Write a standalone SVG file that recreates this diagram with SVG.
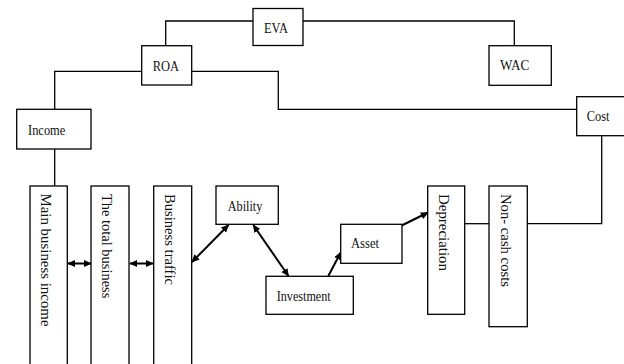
<svg xmlns="http://www.w3.org/2000/svg" width="624" height="364" viewBox="0 0 624 364">
<style>
.box{fill:#fff;stroke:#000;stroke-width:1.3}
.ln{fill:none;stroke:#000;stroke-width:1.3}
.ar{fill:none;stroke:#000;stroke-width:2}
.t{font-family:"Liberation Serif","Times New Roman",serif;font-size:14px;fill:#111}
.v{font-family:"Liberation Serif","Times New Roman",serif;font-size:15px;fill:#111}
</style>
<defs>
<marker id="ah" viewBox="0 0 10 10" refX="9" refY="5" markerWidth="8" markerHeight="8" markerUnits="userSpaceOnUse" orient="auto-start-reverse">
<path d="M0,0.5 L10,5 L0,9.5 z" fill="#000"/>
</marker>
</defs>
<rect width="624" height="364" fill="#fff"/>
<g id="connectors">
<polyline class="ln" points="253,21 165.7,21 165.7,45.7"/>
<polyline class="ln" points="303,21 514.3,21 514.3,45.7"/>
<polyline class="ln" points="141.7,71.3 54.7,71.3 54.7,109.3"/>
<polyline class="ln" points="191.7,71.3 278.3,71.3 278.3,109.3 576.7,109.3"/>
<line class="ln" x1="54.7" y1="149" x2="54.7" y2="186"/>
<polyline class="ln" points="601.7,135.7 601.7,223.7 527.3,223.7"/>
<line class="ln" x1="464.7" y1="223.7" x2="489" y2="223.7"/>
<line class="ar" x1="68" y1="263.5" x2="91" y2="263.5" marker-start="url(#ah)" marker-end="url(#ah)"/>
<line class="ar" x1="130" y1="263.5" x2="153" y2="263.5" marker-start="url(#ah)" marker-end="url(#ah)"/>
<line class="ar" x1="192" y1="262" x2="228.5" y2="225" marker-start="url(#ah)" marker-end="url(#ah)"/>
<line class="ar" x1="253.3" y1="225" x2="288.5" y2="276" marker-start="url(#ah)" marker-end="url(#ah)"/>
<line class="ar" x1="328.3" y1="276" x2="340.7" y2="252.5" marker-end="url(#ah)"/>
<line class="ar" x1="401.7" y1="225.5" x2="428" y2="212.5" marker-end="url(#ah)"/>
</g>
<g id="eva"><rect class="box" x="253" y="8.5" width="50" height="37"/><text class="t" x="264" y="33.3" textLength="24" lengthAdjust="spacingAndGlyphs">EVA</text></g>
<g id="roa"><rect class="box" x="141.7" y="45.7" width="50" height="39.3"/><text class="t" x="152.7" y="71" textLength="26.3" lengthAdjust="spacingAndGlyphs">ROA</text></g>
<g id="wac"><rect class="box" x="489" y="45.7" width="62.3" height="39.6"/><text class="t" x="500" y="70" textLength="29.3" lengthAdjust="spacingAndGlyphs">WAC</text></g>
<g id="income"><rect class="box" x="16.7" y="109.3" width="74.3" height="39.7"/><text class="t" x="28" y="134.5" textLength="37.3" lengthAdjust="spacingAndGlyphs">Income</text></g>
<g id="cost"><rect class="box" x="576.7" y="96.7" width="60" height="39"/><text class="t" x="586.7" y="120.7" textLength="22.7" lengthAdjust="spacingAndGlyphs">Cost</text></g>
<g id="main"><rect class="box" x="30" y="186" width="37.3" height="190"/><text class="v" transform="translate(40.5,193.5) rotate(90)" textLength="133" lengthAdjust="spacingAndGlyphs">Main business income</text></g>
<g id="total"><rect class="box" x="91" y="186" width="38" height="190"/><text class="v" transform="translate(102,194) rotate(90)" textLength="104.3" lengthAdjust="spacingAndGlyphs">The total business</text></g>
<g id="traffic"><rect class="box" x="153.7" y="186" width="38" height="190"/><text class="v" transform="translate(165,194) rotate(90)" textLength="91" lengthAdjust="spacingAndGlyphs">Business traffic</text></g>
<g id="ability"><rect class="box" x="216" y="186" width="62.3" height="38.3"/><text class="t" x="227.7" y="210.7" textLength="34.7" lengthAdjust="spacingAndGlyphs">Ability</text></g>
<g id="investment"><rect class="box" x="266" y="276.3" width="87.3" height="38"/><text class="t" x="276.7" y="300.7" textLength="54" lengthAdjust="spacingAndGlyphs">Investment</text></g>
<g id="asset"><rect class="box" x="340.7" y="224.3" width="61.3" height="39"/><text class="t" x="351" y="248.3" textLength="28" lengthAdjust="spacingAndGlyphs">Asset</text></g>
<g id="depreciation"><rect class="box" x="427.7" y="186" width="37" height="128.3"/><text class="v" transform="translate(438.5,194) rotate(90)" textLength="77" lengthAdjust="spacingAndGlyphs">Depreciation</text></g>
<g id="noncash"><rect class="box" x="489" y="186" width="38.3" height="140.7"/><text class="v" transform="translate(500.5,194) rotate(90)" textLength="93" lengthAdjust="spacingAndGlyphs">Non- cash costs</text></g>
</svg>
